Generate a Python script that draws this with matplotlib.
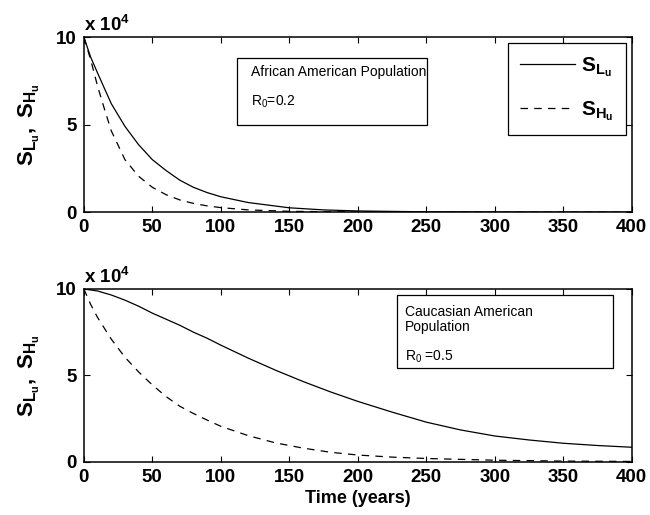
import matplotlib
matplotlib.use('Agg')
import matplotlib.pyplot as plt
from matplotlib.patches import Rectangle

plt.rcParams['font.family'] = ['Liberation Sans', 'DejaVu Sans']
plt.rcParams['mathtext.fontset'] = 'custom'
plt.rcParams['mathtext.rm'] = 'Liberation Sans'
plt.rcParams['mathtext.it'] = 'Liberation Sans:italic'
plt.rcParams['mathtext.bf'] = 'Liberation Sans:bold'

# donnees (unites de 10^4)
t_af_L = [0, 5, 10, 20, 30, 40, 50, 60, 70, 80, 90, 100, 120, 150, 175, 200, 250, 300, 400]
af_L = [10, 8.85, 7.95, 6.2, 4.9, 3.85, 3.0, 2.38, 1.83, 1.42, 1.12, 0.88, 0.55, 0.25,
        0.13, 0.07, 0.02, 0.005, 0]
t_af_H = [0, 5, 10, 15, 20, 30, 40, 50, 60, 70, 80, 90, 100, 120, 150, 200, 250, 400]
af_H = [10, 8.7, 7.2, 5.9, 4.65, 3.0, 2.05, 1.42, 1.0, 0.7, 0.5, 0.36, 0.26, 0.13, 0.05,
        0.01, 0, 0]

t_ca_L = [0, 10, 20, 30, 40, 50, 60, 70, 80, 90, 100, 120, 140, 160, 180, 200, 225, 250,
          275, 300, 325, 350, 375, 400]
ca_L = [10, 9.88, 9.65, 9.35, 9.0, 8.6, 8.25, 7.9, 7.5, 7.15, 6.75, 6.0, 5.3, 4.65, 4.05,
        3.5, 2.88, 2.3, 1.85, 1.5, 1.27, 1.08, 0.95, 0.85]
t_ca_H = [0, 5, 10, 20, 30, 40, 50, 60, 70, 80, 90, 100, 120, 140, 160, 180, 200, 225, 250,
          300, 350, 400]
ca_H = [10, 9.1, 8.35, 7.1, 6.05, 5.2, 4.45, 3.78, 3.22, 2.8, 2.42, 2.06, 1.52, 1.1, 0.8,
        0.56, 0.4, 0.28, 0.2, 0.1, 0.05, 0.03]

xticks = [0, 50, 100, 150, 200, 250, 300, 350, 400]
yticks = [0, 5, 10]

lab_L = r'$\mathbf{S}_{\mathbf{L}_{\mathbf{u}}}$'
lab_H = r'$\mathbf{S}_{\mathbf{H}_{\mathbf{u}}}$'
ylab = r'$\mathbf{S}_{\mathbf{L}_{\mathbf{u}}}\mathbf{,\ S}_{\mathbf{H}_{\mathbf{u}}}$'

fig = plt.figure(figsize=(6.5, 5.15), dpi=100)
ax1 = fig.add_axes([0.129, 0.588, 0.843, 0.340])
ax2 = fig.add_axes([0.129, 0.103, 0.843, 0.336])

dash = (0, (6, 5))


def habiller(ax):
    ax.set_xlim(0, 400)
    ax.set_ylim(0, 10)
    ax.set_xticks(xticks)
    ax.set_yticks(yticks)
    ax.tick_params(direction='in', top=True, right=True, length=4, width=0.8,
                   labelsize=13.5, pad=5)
    for lab in ax.get_xticklabels() + ax.get_yticklabels():
        lab.set_fontweight('bold')
    for s in ax.spines.values():
        s.set_linewidth(1.1)
    ax.set_ylabel(ylab, fontsize=16, labelpad=10)
    ax.text(0.0, 1.012, r'x 10$^{\mathbf{4}}$', transform=ax.transAxes,
            fontsize=13.5, fontweight='bold', va='bottom', ha='left')


def cadre(ax, x0, y0, x1, y1):
    ax.add_patch(Rectangle((x0, y0), x1 - x0, y1 - y0, transform=ax.transAxes,
                           fc='white', ec='black', lw=0.9, zorder=3))


l1, = ax1.plot(t_af_L, af_L, color='black', lw=0.9, label=lab_L)
l2, = ax1.plot(t_af_H, af_H, color='black', lw=0.9, linestyle=dash, label=lab_H)
habiller(ax1)
cadre(ax1, 0.279, 0.497, 0.626, 0.88)
ax1.text(0.305, 0.802, 'African American Population', transform=ax1.transAxes,
         fontsize=10, va='center', ha='left', zorder=4)
ax1.text(0.305, 0.630, r'R$_0$=0.2', transform=ax1.transAxes,
         fontsize=10, va='center', ha='left', zorder=4)
leg = ax1.legend(handles=[l1, l2], loc='upper right', bbox_to_anchor=(0.989, 0.966),
                 prop={'size': 15, 'weight': 'bold'}, handlelength=2.6,
                 labelspacing=0.95, borderpad=0.6, handletextpad=0.3,
                 borderaxespad=0, fancybox=False, edgecolor='black', framealpha=1)
leg.get_frame().set_linewidth(0.9)

ax2.plot(t_ca_L, ca_L, color='black', lw=0.9)
ax2.plot(t_ca_H, ca_H, color='black', lw=0.9, linestyle=dash)
habiller(ax2)
cadre(ax2, 0.571, 0.543, 0.965, 0.965)
ax2.text(0.586, 0.869, 'Caucasian American', transform=ax2.transAxes,
         fontsize=10, va='center', ha='left', zorder=4)
ax2.text(0.586, 0.781, 'Population', transform=ax2.transAxes,
         fontsize=10, va='center', ha='left', zorder=4)
ax2.text(0.586, 0.605, r'R$_0$ =0.5', transform=ax2.transAxes,
         fontsize=10, va='center', ha='left', zorder=4)
ax2.set_xlabel('Time (years)', fontsize=13, fontweight='bold', labelpad=3)

fig.savefig('out.png', dpi=100)
